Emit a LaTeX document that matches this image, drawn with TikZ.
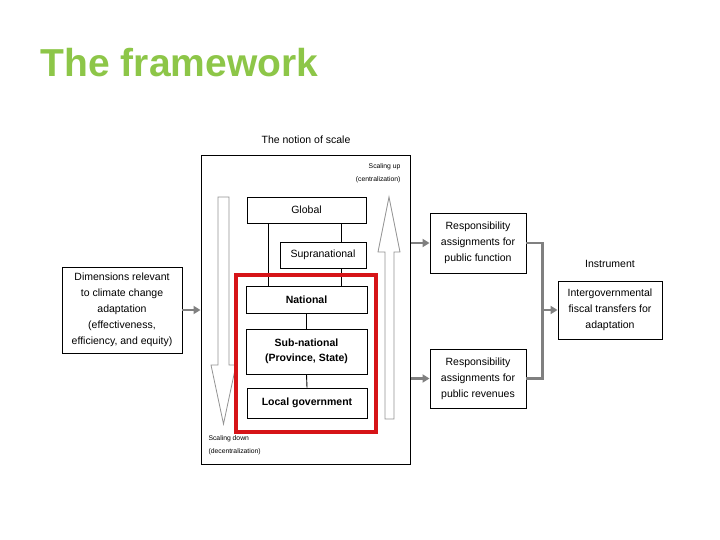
\documentclass[tikz,border=0pt]{standalone}
\usepackage{fontspec}
\setmainfont{Liberation Sans}
\usetikzlibrary{positioning, arrows.meta}
\definecolor{titlegreen}{RGB}{141,198,72}
\definecolor{linkgray}{RGB}{128,128,128}
\definecolor{framered}{RGB}{214,20,24}

\begin{document}
\begin{tikzpicture}[x=1pt, y=-1pt,
  lvlb/.style={draw, fill=white, line width=0.9pt, inner sep=1pt,
               font=\fontsize{10.5}{15}\selectfont, align=center},
  sideb/.style={draw, fill=white, line width=0.9pt, inner sep=1pt,
                font=\fontsize{10.5}{16}\selectfont, align=center},
  lbl/.style={font=\fontsize{10.5}{16}\selectfont, align=center},
  small/.style={font=\fontsize{6.8}{13}\selectfont},
  hollow/.style={draw=gray!85, fill=white, line width=0.8pt},
  arr/.style={-{Triangle[length=7pt, width=8pt]}, linkgray, line width=2.6pt},
  link/.style={linkgray, line width=2.6pt},
]
\useasboundingbox (0,0) rectangle (720,540);

% Title
\node[anchor=base west, inner sep=0pt, text=titlegreen,
      font=\fontsize{39}{46}\selectfont\bfseries] (title) at (40.5,77) {The framework};

% The notion of scale
\node[lbl] (scalehead) at (306,140) {The notion of scale};
\node[draw, line width=1pt, minimum width=209pt, minimum height=308pt] (outer) at (305.5,310) {};
\node[small, align=right, anchor=east] (up) at (404,173.5) {Scaling up\\(centralization)};
\node[small, align=left, anchor=west] (down) at (205,445) {Scaling down\\(decentralization)};

% Hollow arrows
\draw[hollow] (218,197) -- (229,197) -- (229,365) -- (236,365) -- (223.5,424)
  -- (211,365) -- (218,365) -- cycle;
\draw[hollow] (385,419) -- (394,419) -- (394,252) -- (400,252) -- (389,197)
  -- (378,252) -- (385,252) -- cycle;

% Levels
\node[lvlb, minimum width=119pt, minimum height=26pt] (global) at (306.5,210) {Global};
\node[lvlb, minimum width=121pt, minimum height=27pt, font=\fontsize{10.5}{15}\selectfont\bfseries] (national) at (306.5,299.5) {National};
\draw[line width=0.9pt] ([xshift=-38.5pt]global.south) -- ([xshift=-38.5pt]national.north);
\draw[line width=0.9pt] ([xshift=34.5pt]global.south) -- ([xshift=34.5pt]national.north);
\node[lvlb, minimum width=86pt, minimum height=26pt] (supra) at (323,255) {Supranational};
\node[lvlb, minimum width=121pt, minimum height=45pt, font=\fontsize{10.5}{15}\selectfont\bfseries] (subnat) at (306.5,351.5) {Sub-national\\(Province, State)};
\node[lvlb, minimum width=120pt, minimum height=30pt, font=\fontsize{10.5}{15}\selectfont\bfseries] (local) at (307,403) {Local government};
\draw[line width=0.9pt] (national.south) -- (subnat.north);
\draw[line width=0.9pt] (subnat.south) -- (local.north);

% Highlight
\node[draw=framered, line width=3.5pt, minimum width=140pt, minimum height=157pt] (highlight) at (306,353.5) {};

% Dimensions
\node[sideb, minimum width=120pt, minimum height=86pt] (dims) at (122,310)
  {Dimensions relevant\\to climate change\\adaptation\\(effectiveness,\\efficiency, and equity)};
\draw[arr] (dims.east) -- (outer.west);

% Responsibility assignments
\node[sideb, minimum width=96pt, minimum height=60pt] (respfun) at (478,243)
  {Responsibility\\assignments for\\public function};
\node[sideb, minimum width=96pt, minimum height=59pt] (resprev) at (478,378.5)
  {Responsibility\\assignments for\\public revenues};
\draw[arr] (respfun.west -| outer.east) -- (respfun.west);
\draw[arr] (resprev.west -| outer.east) -- (resprev.west);

% Instrument
\node[lbl] (insthead) at (610,264) {Instrument};
\node[sideb, minimum width=104pt, minimum height=58pt] (transfer) at (610,310)
  {Intergovernmental\\fiscal transfers for\\adaptation};
\coordinate (join) at (542,310);
\draw[link] (respfun.east) -- ++(16,0) |- (resprev.east);
\draw[arr] (join) -- (transfer.west);

\end{tikzpicture}
\end{document}
